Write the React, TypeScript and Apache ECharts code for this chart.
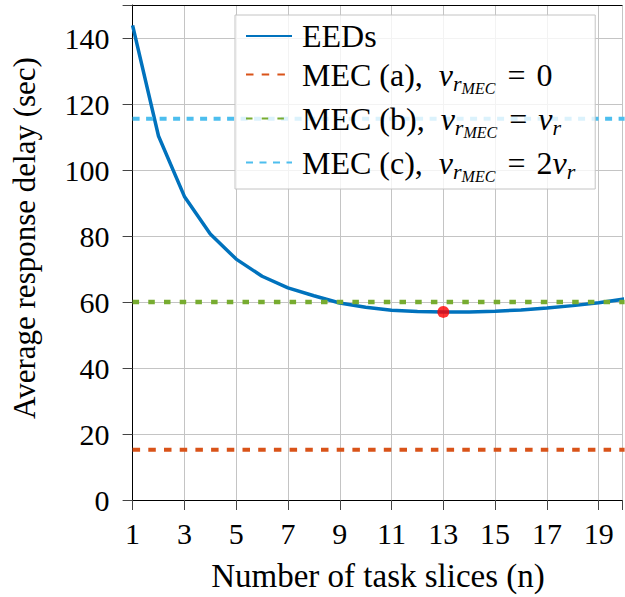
import React, { useEffect, useRef } from 'react';
import * as echarts from 'echarts';

// ---- data ----
const taskSlices = [1, 2, 3, 4, 5, 6, 7, 8, 9, 10, 11, 12, 13, 14, 15, 16, 17, 18, 19, 20];
const eedsDelay = [143.8, 110.3, 92.0, 80.6, 73.0, 67.8, 64.3, 61.9, 59.7, 58.4, 57.5, 57.1, 57.0, 57.0, 57.2, 57.6, 58.2, 58.9, 59.8, 60.9];
const mecNames = ['MEC (a)', 'MEC (b)', 'MEC (c)'];
const mecLevels = [15.2, 60, 115.5];
const optimumPoint = [13, 57.0];
const xLabelValues = [1, 3, 5, 7, 9, 11, 13, 15, 17, 19];
const yLabelValues = [0, 20, 40, 60, 80, 100, 120, 140];

const FONT = 'serif';

const mecColors = ['#D95319', '#77AC30', '#4DBEEE'];
const mecDashes = [[7.5, 8.2], [6.5, 9.2], [7, 6.5]];
const mecWidths = [4, 4.5, 4];

const legendLabels: Record<string, string> = {
  'EEDs': '{t|EEDs}',
  'MEC (a)': '{lab|MEC (a),}{i|ν}{s1|r}{s2|MEC}{eq|=}{t|0}',
  'MEC (b)': '{lab|MEC (b),}{i|ν}{s1|r}{s2|MEC}{eq|=}{i|ν}{s1|r}',
  'MEC (c)': '{lab|MEC (c),}{i|ν}{s1|r}{s2|MEC}{eq|=}{t|2}{i|ν}{s1|r}',
};

export default function App() {
  const ref = useRef<HTMLDivElement>(null);

  useEffect(() => {
    if (!ref.current) return;
    const chart = echarts.init(ref.current, undefined, { renderer: 'svg' });

    const rich = {
      t: { fontFamily: FONT, fontSize: 32, lineHeight: 38, color: '#000' },
      lab: { fontFamily: FONT, fontSize: 32, lineHeight: 38, color: '#000', padding: [0, 16, 0, 0] },
      eq: { fontFamily: FONT, fontSize: 32, lineHeight: 38, color: '#000', padding: [0, 11, 0, 12] },
      i: { fontFamily: FONT, fontSize: 32, fontStyle: 'italic', lineHeight: 38, color: '#000' },
      s1: { fontFamily: FONT, fontSize: 22, fontStyle: 'italic', lineHeight: 20, padding: [17, 0, 0, 0], color: '#000' },
      s2: { fontFamily: FONT, fontSize: 16, fontStyle: 'italic', lineHeight: 20, padding: [27, 0, 0, 0], color: '#000' },
    };

    const option: any = {
      animation: false,
      textStyle: { fontFamily: FONT },
      grid: { left: 132.6, right: 0, top: 5, bottom: 97, containLabel: false },
      xAxis: [
        {
          type: 'value',
          min: 1,
          max: 19.9,
          interval: 2,
          axisLine: { show: true, lineStyle: { color: '#000', width: 1 } },
          axisTick: { show: true, length: 10, lineStyle: { color: '#444', width: 1 } },
          axisLabel: {
            show: true, margin: 18, fontFamily: FONT, fontSize: 30, color: '#000',
            formatter: (v: number) => (xLabelValues.includes(v) ? String(v) : ''),
          },
          splitLine: { show: true, lineStyle: { color: '#c4c4c4', width: 1 } },
        },
        {
          type: 'value', position: 'top', min: 1, max: 19.9,
          axisLine: { show: true, onZero: false, lineStyle: { color: '#000', width: 1 } },
          axisTick: { show: false }, axisLabel: { show: false }, splitLine: { show: false },
        },
      ],
      yAxis: {
        type: 'value',
        min: 0,
        max: 150,
        interval: 20,
        axisLine: { show: true, lineStyle: { color: '#000', width: 1 } },
        axisTick: { show: true, length: 10, lineStyle: { color: '#444', width: 1 } },
        axisLabel: {
          show: true, margin: 23, fontFamily: FONT, fontSize: 30, color: '#000',
          formatter: (v: number) => (yLabelValues.includes(v) ? String(v) : ''),
        },
        splitLine: { show: true, lineStyle: { color: '#c4c4c4', width: 1 } },
      },
      legend: {
        orient: 'vertical',
        left: 235,
        top: 15,
        itemWidth: 46,
        itemHeight: 14,
        itemGap: 1,
        padding: [5, 20, 5, 10],
        backgroundColor: 'rgba(255,255,255,0.8)',
        borderColor: '#c4c4c4',
        borderWidth: 1,
        selectedMode: false,
        itemStyle: { opacity: 0, borderWidth: 0 },
        data: ['EEDs', ...mecNames],
        formatter: (name: string) => legendLabels[name] || name,
        textStyle: { fontFamily: FONT, fontSize: 32, color: '#000', padding: [0, 0, 0, 5], rich },
      },
      graphic: [
        {
          type: 'text',
          x: 378,
          y: 576,
          style: {
            text: 'Number of task slices (n)',
            fontFamily: FONT, fontSize: 33, fill: '#000',
            align: 'center', verticalAlign: 'middle',
          },
        },
        {
          type: 'text',
          x: 24,
          y: 238,
          rotation: Math.PI / 2,
          style: {
            text: 'Average response delay (sec)',
            fontFamily: FONT, fontSize: 31, fill: '#000',
            align: 'center', verticalAlign: 'middle',
          },
        },
      ],
      series: [
        {
          name: 'EEDs',
          type: 'line',
          data: taskSlices.map((n, i) => [n, eedsDelay[i]]),
          symbol: 'none',
          lineStyle: { color: '#0072BD', width: 3.5 },
          itemStyle: { color: '#0072BD' },
          z: 2,
        },
        ...mecNames.map((name, k) => ({
          name,
          type: 'line',
          data: [[taskSlices[0], mecLevels[k]], [taskSlices[taskSlices.length - 1], mecLevels[k]]],
          symbol: 'none',
          lineStyle: { color: mecColors[k], width: mecWidths[k], type: mecDashes[k] },
          itemStyle: { color: mecColors[k] },
          z: 3,
        })),
        {
          name: 'Optimum',
          type: 'scatter',
          data: [optimumPoint],
          symbol: 'circle',
          symbolSize: 12,
          itemStyle: { color: '#FF0000' },
          z: 5,
        },
      ],
    };

    chart.setOption(option);
    return () => chart.dispose();
  }, []);

  return (
    <div
      ref={ref}
      style={{ position: 'fixed', left: 0, top: 0, width: 625, height: 597, background: '#fff' }}
    />
  );
}
